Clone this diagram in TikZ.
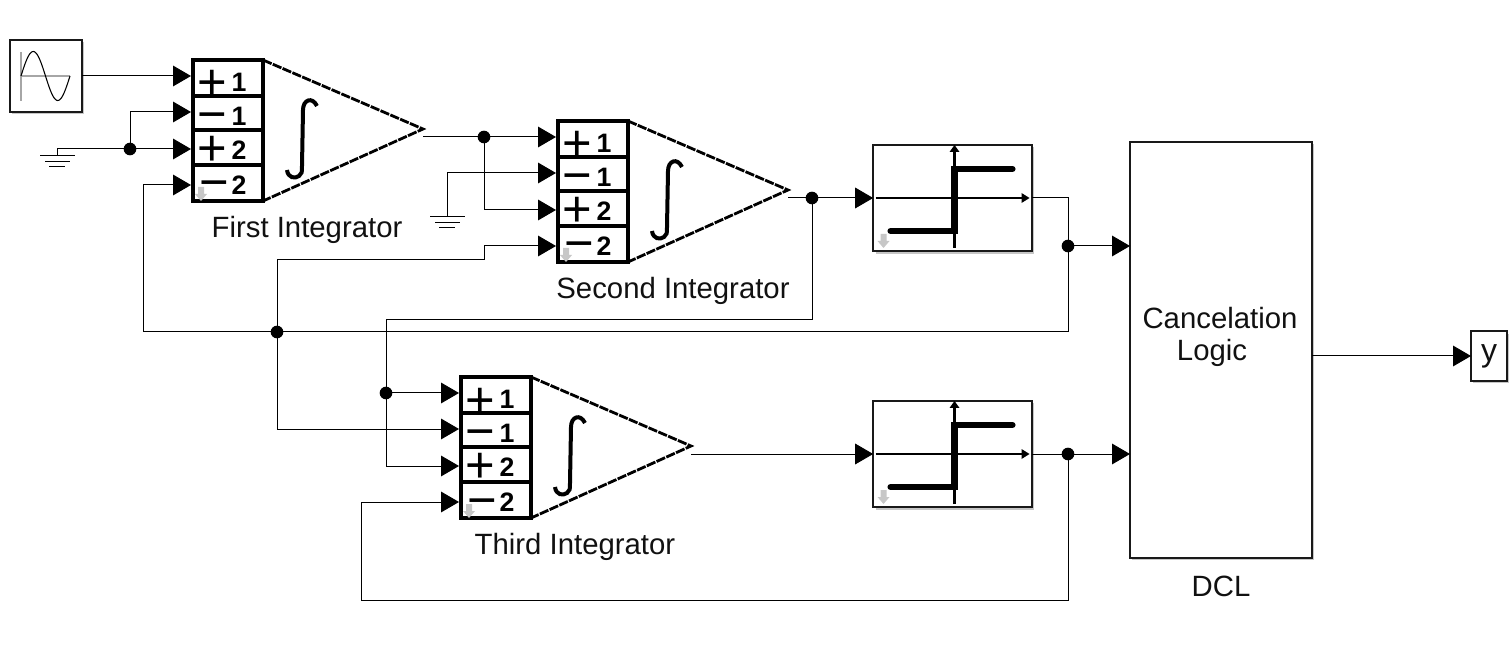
\documentclass[tikz,border=0pt]{standalone}
\usepackage{fontspec}
\setmainfont{Liberation Sans}
\usetikzlibrary{arrows.meta,shadows}

\newfontfamily\signfont{Liberation Sans}
\definecolor{inkgray}{HTML}{111111}
\tikzset{
    wire/.style={line width=.75pt, black},
    arr/.style={wire, -{Triangle[length=13.5pt, width=15.5pt]}},
    junc/.style={circle, fill=black, inner sep=0pt, outer sep=0pt, minimum size=9.5pt},
    blockbox/.style={draw=black!90, line width=1.6pt, fill=white, inner sep=0pt, outer sep=0pt,
        drop shadow={shadow xshift=1.8pt, shadow yshift=-1.8pt, opacity=.45}},
    caption/.style={font=\fontsize{22}{24}\selectfont, text=inkgray, inner sep=0pt},
    sign/.style={font=\signfont\fontsize{38}{38}\selectfont, anchor=base, inner sep=0pt},
    digit/.style={font=\bfseries\fontsize{20}{20}\selectfont, inner sep=0pt},
    cell/.style={line width=2.7pt, black},
    tri/.style={line width=2.1pt, black, dash pattern=on 7pt off 1pt},
    plotline/.style={line width=4.6pt, black},
    axisline/.style={line width=1.7pt, black},
    portmark/.style={fill=black!22, draw=none},
}

% integrator: name, x, y of the top left corner
\newcommand{\Integrator}[3]{
    \begin{scope}[shift={(#2,#3)}]
        \node[draw=none, inner sep=0pt] (#1) at (35,70.5) {};
        \draw[cell] (0,0) rectangle (70,141);
        \draw[cell] (0,36) -- (70,36);
        \draw[cell] (0,70) -- (70,70);
        \draw[cell] (0,105) -- (70,105);
        \draw[tri] (70,0) -- (230,69) -- (70,141);
        \node[sign] (#1a) at (19,40) {+};
        \node[sign] (#1b) at (19,71.5) {−};
        \node[sign] (#1c) at (19,105.5) {+};
        \node[sign] (#1d) at (21,140) {−};
        \node[digit] (#1e) at (46,22) {1};
        \node[digit] (#1f) at (46,56) {1};
        \node[digit] (#1g) at (46,90) {2};
        \node[digit] (#1h) at (46,125) {2};
        \draw[line width=3pt] (94,110) .. controls (95,118) and (102,119) .. (106,116)
            .. controls (109,114) and (109,112) .. (109,106) -- (110,50)
            .. controls (110,40) and (119,36) .. (124,46);
        \fill[portmark] (5,127) -- (11,127) -- (11,134) -- (14,134) -- (8,141) -- (2,134) -- (5,134) -- cycle;
        \coordinate (#1p1) at (-2,16);
        \coordinate (#1p2) at (-2,52);
        \coordinate (#1p3) at (-2,89);
        \coordinate (#1p4) at (-2,125);
        \coordinate (#1o) at (230,77);
    \end{scope}
}

% saturation: name, x, y of the centre
\newcommand{\Saturation}[3]{
    \node[blockbox, minimum width=119pt, minimum height=80pt] (#1) at (#2,#3) {};
    \begin{scope}[shift={(#2,#3)}]
        \draw[axisline] (-77,0) -- (72,0);
        \fill (69,-5) -- (77,0) -- (69,5) -- cycle;
        \draw[axisline] (2,50) -- (2,-50);
        \fill (-3,-46) -- (2,-53) -- (7,-46) -- cycle;
        \draw[plotline, line cap=round] (-62,33) -- (2,33) -- (2,-29) -- (60,-29);
        \fill[portmark] (-72,36) -- (-66,36) -- (-66,43) -- (-63,43) -- (-69,50) -- (-75,43) -- (-72,43) -- cycle;
    \end{scope}
}

% ground: x, y of the top line
\newcommand{\Ground}[2]{
    \draw[wire] (#1-17,#2) -- (#1+18,#2);
    \draw[wire] (#1-12,#2+6) -- (#1+13,#2+6);
    \draw[wire] (#1-8,#2+11) -- (#1+8,#2+11);
}

\begin{document}
\begin{tikzpicture}[x=.75pt, y=-.75pt]
    \useasboundingbox (0,0) rectangle (1511,645);

    % source
    \node[blockbox, minimum width=54pt, minimum height=54pt] (sine) at (46,76) {};
    \draw[black!35, line width=.8pt] (21,52) -- (21,101);
    \draw[black!35, line width=.8pt] (21,76) -- (70,76);
    \draw[line width=.8pt, domain=0:360, samples=60, smooth] plot ({21+\x/360*49},{76-24.5*sin(\x)});

    \Integrator{i_1}{193}{60}
    \Integrator{i_2}{558}{121}
    \Integrator{i_3}{461}{377}

    \Saturation{s_1}{952.5}{198}
    \Saturation{s_2}{952.5}{454}

    \node[blockbox, minimum width=136.5pt, minimum height=312pt] (dcl) at (1221,350) {};
    \node[blockbox, minimum width=27pt, minimum height=37pt, font=\fontsize{24}{24}\selectfont, text=inkgray] (out) at (1489,356) {y};

    % captions
    \node[caption] (t_1) at (307,230) {First Integrator};
    \node[caption] (t_2) at (673,291) {Second Integrator};
    \node[caption] (t_3) at (575,547) {Third Integrator};
    \node[caption, align=center] (t_4) at (1220,337) {Cancelation\\Logic\hspace{12pt}\mbox{}};
    \node[caption] (t_5) at (1221,586) {DCL};

    % junctions
    \node[junc] (j_1) at (130,149) {};
    \node[junc] (j_2) at (484,137) {};
    \node[junc] (j_3) at (812,198) {};
    \node[junc] (j_4) at (1068,246) {};
    \node[junc] (j_5) at (277,332) {};
    \node[junc] (j_6) at (386,393) {};
    \node[junc] (j_7) at (1068,454) {};

    \coordinate (g_1) at (57,156);
    \coordinate (g_2) at (447,217);
    \coordinate (c_1) at (143,332);
    \coordinate (c_3) at (484,260);
    \coordinate (c_4) at (386,320);
    \coordinate (c_5) at (361,600);
    \coordinate (d_1) at (1130,246);
    \coordinate (d_2) at (1130,454);
    \coordinate (d_3) at (1312,356);

    \Ground{57}{156}
    \Ground{447}{217}

    % connections
    \draw[arr] (sine.east) -- (i_1p1);
    \draw[wire] (g_1) |- (j_1);
    \draw[arr] (j_1) |- (i_1p2);
    \draw[arr] (j_1) -- (i_1p3);
    \draw[arr] (j_5) -- (c_1) |- (i_1p4);
    \draw[wire] (i_1o) -- (j_2);
    \draw[arr] (j_2) -- (i_2p1);
    \draw[arr] (j_2) |- (i_2p3);
    \draw[arr] (g_2) |- (i_2p2);
    \draw[arr] (j_5) |- (c_3) |- (i_2p4);
    \draw[wire] (i_2o) -- (j_3);
    \draw[arr] (j_3) -- (s_1.west);
    \draw[wire] (j_3) |- (c_4) -- (j_6);
    \draw[arr] (j_6) -- (i_3p1);
    \draw[arr] (j_6) |- (i_3p3);
    \draw[arr] (j_5) |- (i_3p2);
    \draw[arr] (j_7) |- (c_5) |- (i_3p4);
    \draw[arr] (i_3o) -- (s_2.west);
    \draw[wire] (s_1.east) -| (j_4);
    \draw[wire] (j_5) -| (j_4);
    \draw[arr] (j_4) -- (d_1);
    \draw[wire] (s_2.east) -- (j_7);
    \draw[arr] (j_7) -- (d_2);
    \draw[arr] (d_3) -- (out.west);
\end{tikzpicture}
\end{document}
